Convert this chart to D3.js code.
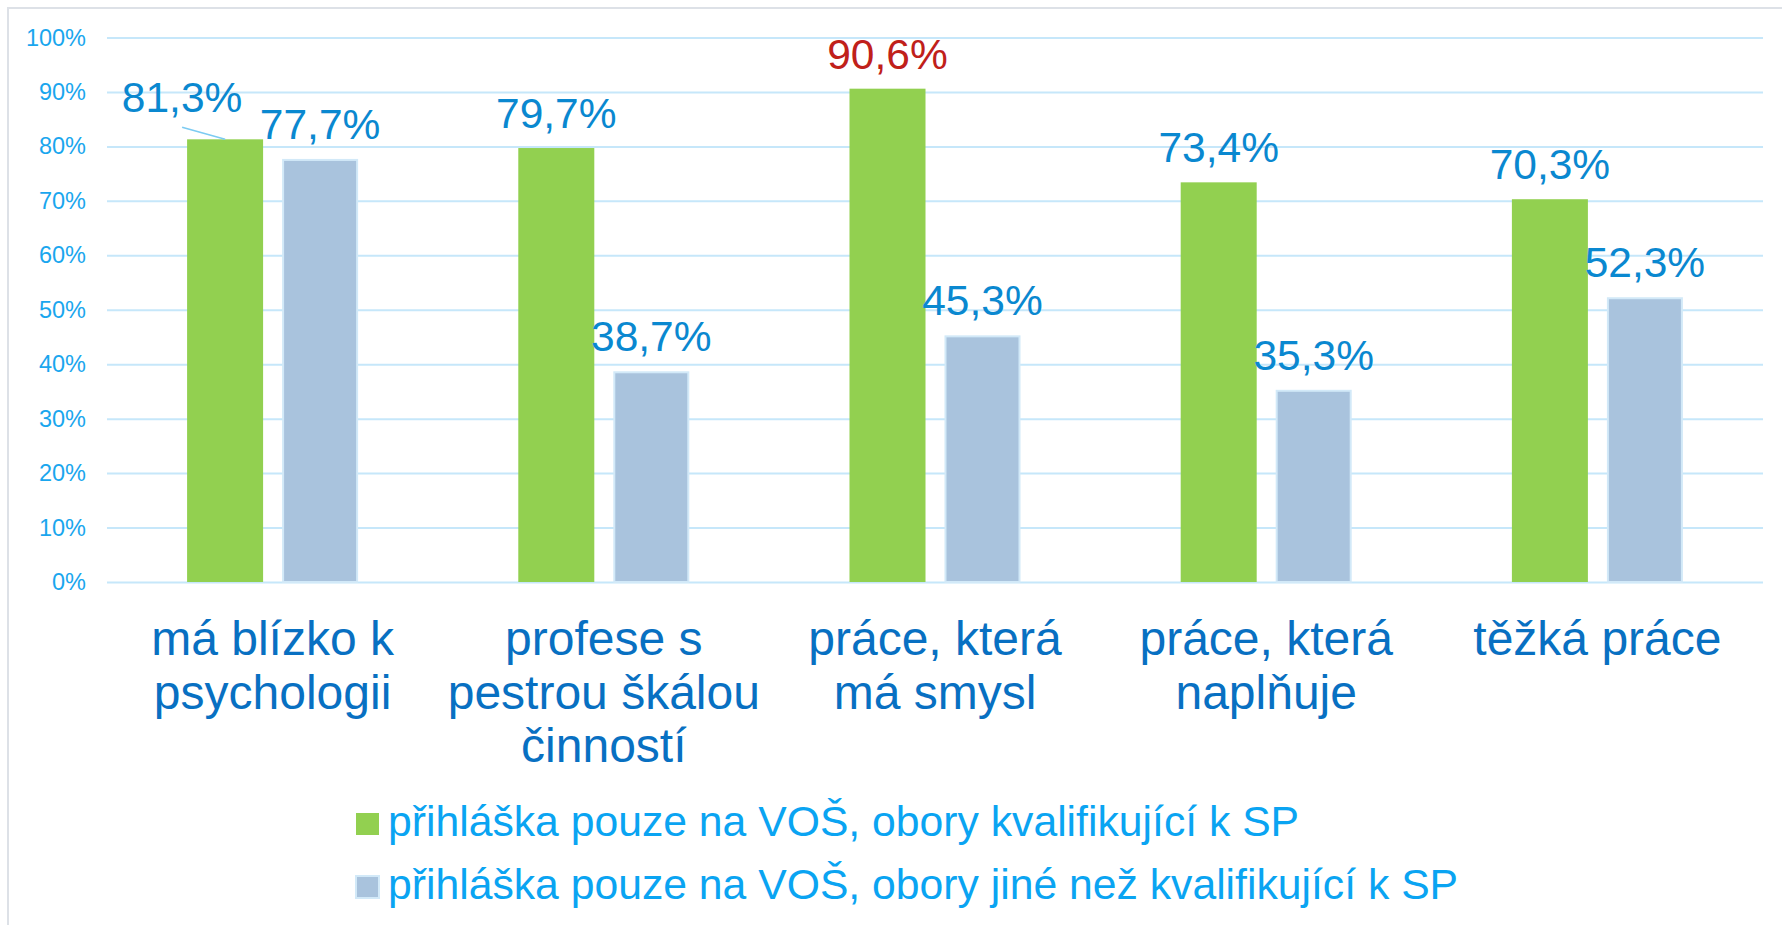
<!DOCTYPE html>
<html>
<head>
<meta charset="utf-8">
<script src="https://cdn.jsdelivr.net/npm/d3@7"></script>
<style>
  body { margin: 0; background: white; }
  svg { display: block; font-family: "Liberation Sans", Arial, sans-serif; }
</style>
</head>
<body>
<svg id="chart"></svg>
<script>
// categories (multi-line labels)
const categories = ["má blízko k psychologii", "profese s pestrou škálou činností", "práce, která má smysl", "práce, která naplňuje", "těžká práce"];
const categoryLines = [
    ["má blízko k", "psychologii"],
    ["profese s", "pestrou škálou", "činností"],
    ["práce, která", "má smysl"],
    ["práce, která", "naplňuje"],
    ["těžká práce"]
];
const seriesNames = [
    "přihláška pouze na VOŠ, obory kvalifikující k SP",
    "přihláška pouze na VOŠ, obory jiné než kvalifikující k SP"
];
const greenValues = [0.813, 0.797, 0.906, 0.734, 0.703];
const blueValues = [0.777, 0.387, 0.453, 0.353, 0.523];
const yTicks = [0, 0.1, 0.2, 0.3, 0.4, 0.5, 0.6, 0.7, 0.8, 0.9, 1.0];

const colors = { green: "#92d050", blue: "#a9c3dd", blueEdge: "#d2e9f8" };

const width = 1782, height = 925;
const svg = d3.select("#chart").attr("width", width).attr("height", height);

// frame (only top/left visible)
svg.append("path")
    .attr("d", `M8,${height} L8,8 L${width},8`)
    .attr("fill", "none")
    .attr("stroke", "#dde1e7")
    .attr("stroke-width", 2);

const plotLeft = 107, plotRight = 1763, plotTop = 37.5, plotBottom = 582;

const x0 = d3.scaleBand().domain(categories).range([plotLeft, plotRight]).padding(0);
const x1 = d3.scaleBand().domain(["green", "blue"]).range([0, x0.bandwidth()])
    .paddingInner(0.2).paddingOuter(0.843);
const y = d3.scaleLinear().domain([0, 1]).range([plotBottom, plotTop]);

const cz = d3.formatLocale({ decimal: ",", thousands: " ", grouping: [3], currency: ["", " Kč"] });
const fmtPct = cz.format(".1%");

//grid + tick labels
const yAxis = svg.append("g")
    .attr("transform", `translate(${plotLeft},0)`)
    .call(d3.axisLeft(y)
        .tickValues(yTicks)
        .tickSize(-(plotRight - plotLeft))
        .tickPadding(21)
        .tickFormat(d3.format(".0%")));
yAxis.select(".domain").remove();
yAxis.selectAll(".tick line").attr("stroke", "#c6e7fa").attr("stroke-width", 2);
yAxis.selectAll(".tick text")
    .attr("fill", "#1aa6ee")
    .style("font-size", "23.5px")
    .style("font-family", "'Liberation Sans', Arial, sans-serif");

const rows = categories.map((c, i) => ({ cat: c, i, green: greenValues[i], blue: blueValues[i] }));

// bars
const groups = svg.selectAll("g.grp")
    .data(rows)
    .join("g")
    .attr("class", "grp")
    .attr("transform", d => `translate(${x0(d.cat)},0)`);

groups.append("rect")
    .attr("x", x1("green"))
    .attr("y", d => y(d.green))
    .attr("width", x1.bandwidth())
    .attr("height", d => y(0) - y(d.green))
    .attr("fill", colors.green);

groups.append("rect")
    .attr("x", x1("blue") + 1)
    .attr("y", d => y(d.blue) + 1)
    .attr("width", x1.bandwidth() - 2)
    .attr("height", d => y(0) - y(d.blue) - 1)
    .attr("fill", colors.blue)
    .attr("stroke", colors.blueEdge)
    .attr("stroke-width", 2);

// data labels (first green label is pulled left with a leader line)
const labelOffset = { "green0": [-43, -7] };
const labelColor = "#0a88d0";
const highlight = { "green2": "#c0201a" };

["green", "blue"].forEach(s => {
    rows.forEach(d => {
        const key = s + d.i;
        const off = labelOffset[key] || [0, 0];
        const cx = x0(d.cat) + x1(s) + x1.bandwidth() / 2;
        const top = y(d[s]);
        if (labelOffset[key]) {
            svg.append("line")
                .attr("x1", cx + off[0]).attr("y1", top - 12)
                .attr("x2", cx).attr("y2", top)
                .attr("stroke", "#7ccbf2")
                .attr("stroke-width", 1.5);
        }
        svg.append("text")
            .attr("x", cx + off[0])
            .attr("y", top - 20 + off[1])
            .attr("text-anchor", "middle")
            .attr("fill", highlight[key] || labelColor)
            .style("font-size", "42.5px")
            .text(fmtPct(d[s]));
    });
});

// category labels
const catFont = 48, catLine = 53.5, catFirst = 655;
rows.forEach(d => {
    const cx = x0(d.cat) + x0.bandwidth() / 2;
    categoryLines[d.i].forEach((line, k) => {
        svg.append("text")
            .attr("x", cx)
            .attr("y", catFirst + k * catLine)
            .attr("text-anchor", "middle")
            .attr("fill", "#0870c2")
            .style("font-size", catFont + "px")
            .text(line);
    });
});

// legend
const legFont = 42.7;
const legend = svg.append("g").attr("transform", "translate(356,836)");
[colors.green, colors.blue].forEach((c, i) => {
    const row = legend.append("g").attr("transform", `translate(0,${i * 63})`);
    row.append("rect")
        .attr("x", 0).attr("y", -23)
        .attr("width", 23).attr("height", 22)
        .attr("fill", c)
        .attr("stroke", i === 1 ? colors.blueEdge : "none")
        .attr("stroke-width", 2);
    row.append("text")
        .attr("x", 32)
        .attr("fill", "#0aa4f2")
        .style("font-size", legFont + "px")
        .text(seriesNames[i]);
});
</script>
</body>
</html>
